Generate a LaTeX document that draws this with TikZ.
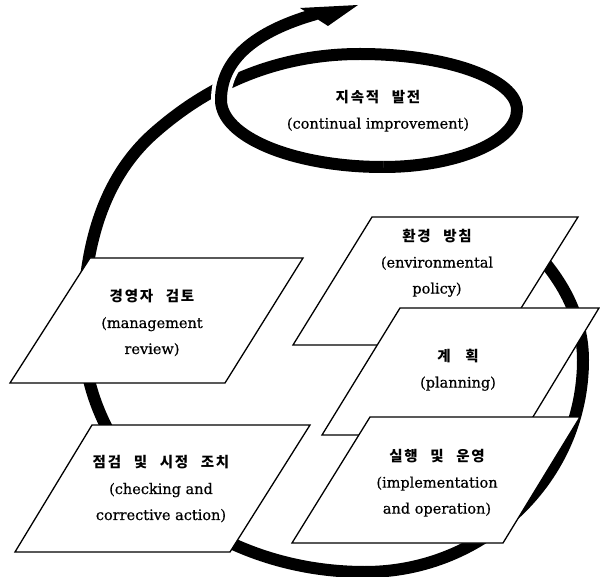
\documentclass[tikz,border=0pt]{standalone}
\usepackage{fontspec}
\setmainfont{DejaVu Serif}[FakeBold=0.6]
\newfontfamily\kr{Noto Sans CJK KR}[LetterSpace=12,WordSpace=2.5]
\newcommand\kor[1]{{\kr\bfseries\fontsize{14.5}{26}\selectfont #1}}

\tikzset{
  ring/.style={line width=12pt, line cap=butt, line join=round},
  gap/.style={preaction={draw=white, line width=20pt}},
  panel/.style={draw, fill=white, line width=1.3pt, line join=miter},
  caption/.style={align=center, font=\fontsize{14.5}{26}\selectfont},
}

\begin{document}
\begin{tikzpicture}[x=1pt, y=-1pt]
  \useasboundingbox (0,0) rectangle (600,577);

  % the big loop, curling into the ellipse at the top
  \draw[ring] (510,228) .. controls (555,265) and (583,310) .. (583,360)
    .. controls (583,477) and (485,572) .. (365,572)
    .. controls (209,572) and (83,464) .. (83,330)
    .. controls (83,245) and (104,178) .. (153,134)
    .. controls (198,94) and (265,54) .. (360,54)
    .. controls (447,54) and (517,79) .. (517,110)
    .. controls (517,141) and (457,167) .. (383,167)
    .. controls (294,167) and (221,137) .. (221,100)
    .. controls (221,55) and (263,29) .. (316,14);
  % the rising end passes over the incoming strand
  \draw[ring, gap] (383,167) .. controls (294,167) and (221,137) .. (221,100)
    .. controls (221,55) and (263,29) .. (316,14);
  \fill (300,8) -- (358,5) -- (328,26) -- cycle;
  \node[caption] (improve) at (378,111) {\kor{지속적 발전}\\(continual improvement)};

  % the five steps
  \draw[panel] (90,258) -- (303,258) -- (225,383) -- (10,383) -- cycle;
  \node[caption] (review) at (152,323) {\kor{경영자 검토}\\(management\\review)};

  \draw[panel] (92,425) -- (310,425) -- (230,552) -- (15,552) -- cycle;
  \node[caption] (check) at (161,489) {\kor{점검 및 시정 조치}\\(checking and\\corrective action)};

  \draw[panel] (372,217) -- (578,217) -- (498,345) -- (293,345) -- cycle;
  \node[caption] (policy) at (437,263) {\kor{환경 방침}\\(environmental\\policy)};

  \draw[panel] (400,308) -- (599,308) -- (522,435) -- (322,435) -- cycle;
  \node[caption] (plan) at (458,370) {\kor{계\quad 획}\\(planning)};

  \draw[panel] (370,417) -- (580,417) -- (503,543) -- (292,543) -- cycle;
  \node[caption] (doing) at (437,483) {\kor{실행 및 운영}\\(implementation\\and operation)};
\end{tikzpicture}
\end{document}
